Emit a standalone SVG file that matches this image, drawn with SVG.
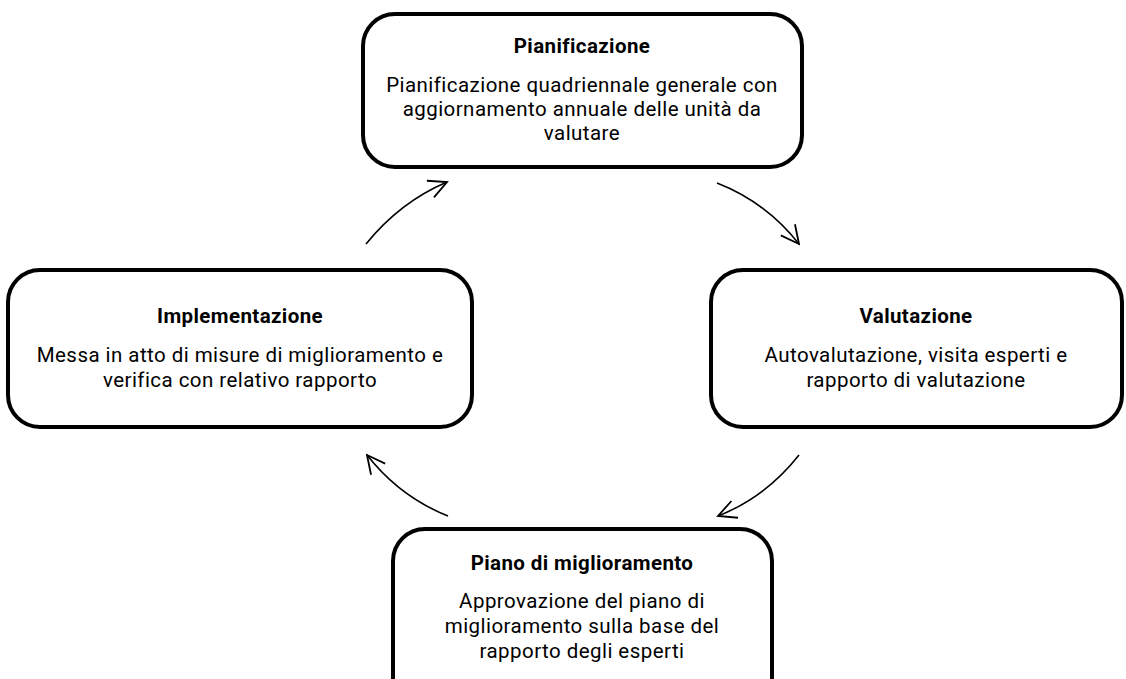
<svg xmlns="http://www.w3.org/2000/svg" width="1126" height="679" viewBox="0 0 1126 679">
<style>
.box{fill:#fff;stroke:#000;stroke-width:4}
.t{font-family:Roboto,"Liberation Sans",sans-serif;font-size:20.5px;letter-spacing:0.45px;text-anchor:middle;fill:#000}
.b{font-weight:bold;font-size:20.5px;letter-spacing:0.4px}
.c{fill:none;stroke:#000;stroke-width:1.6}
</style>
<defs>
<marker id="ah" markerUnits="userSpaceOnUse" viewBox="-22 -12 24 24" refX="0" refY="0" markerWidth="24" markerHeight="24" orient="auto">
<path d="M-18,-9 L0,0 L-18,9" fill="none" stroke="#000" stroke-width="1.8"/>
</marker>
</defs>
<rect width="1126" height="679" fill="#fff"/>
<g id="connectors">
<path class="c" d="M366,244 Q400,202 447,182" marker-end="url(#ah)"/>
<path class="c" d="M717,183 Q766,202 799,244" marker-end="url(#ah)"/>
<path class="c" d="M799,455 Q766,497 718,516" marker-end="url(#ah)"/>
<path class="c" d="M448,516 Q400,497 367,455" marker-end="url(#ah)"/>
</g>
<g id="pianificazione">
<rect class="box" x="363" y="14" width="439" height="153" rx="32"/>
<text class="t b" x="582" y="53">Pianificazione</text>
<text class="t" x="582" y="92">Pianificazione quadriennale generale con</text>
<text class="t" x="582" y="116">aggiornamento annuale delle unità da</text>
<text class="t" x="582" y="140">valutare</text>
</g>
<g id="valutazione">
<rect class="box" x="711" y="270" width="411" height="157" rx="32"/>
<text class="t b" x="916" y="323">Valutazione</text>
<text class="t" x="916" y="362">Autovalutazione, visita esperti e</text>
<text class="t" x="916" y="387">rapporto di valutazione</text>
</g>
<g id="implementazione">
<rect class="box" x="8" y="270" width="464" height="157" rx="32"/>
<text class="t b" x="240" y="323">Implementazione</text>
<text class="t" x="240" y="362">Messa in atto di misure di miglioramento e</text>
<text class="t" x="240" y="387">verifica con relativo rapporto</text>
</g>
<g id="piano">
<rect class="box" x="393" y="529" width="379" height="180" rx="32"/>
<text class="t b" x="582" y="570">Piano di miglioramento</text>
<text class="t" x="582" y="608">Approvazione del piano di</text>
<text class="t" x="582" y="633">miglioramento sulla base del</text>
<text class="t" x="582" y="658">rapporto degli esperti</text>
</g>
</svg>
